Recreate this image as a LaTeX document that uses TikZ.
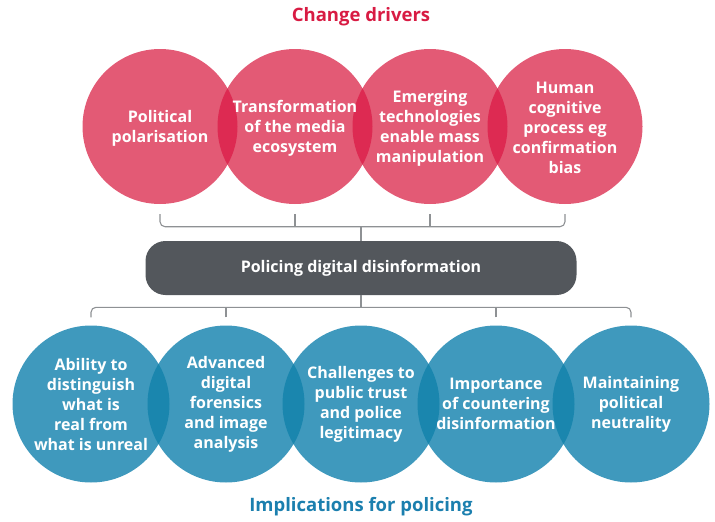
\documentclass[tikz,border=0pt]{standalone}
\usepackage{fontspec}
\setmainfont{Open Sans}
\usetikzlibrary{calc}
\pgfdeclarelayer{bg}
\pgfsetlayers{bg,main}
\definecolor{driverfill}{HTML}{E35A75}
\definecolor{driverlens}{HTML}{DD2A52}
\definecolor{implfill}{HTML}{3F99BD}
\definecolor{impllens}{HTML}{1A86AE}
\definecolor{barfill}{HTML}{53575C}
\definecolor{linkgray}{HTML}{8E9194}
\definecolor{headred}{HTML}{D81B43}
\definecolor{headblue}{HTML}{1B7FAE}
\begin{document}
\begin{tikzpicture}[x=1pt,y=-1pt,
  bubble/.style={circle, minimum size=#1, inner sep=0pt, text=white, align=center,
    font=\bfseries\fontsize{16}{20}\selectfont},
  driver/.style={bubble=155pt},
  impl/.style={bubble=157pt},
  hub/.style={rectangle, rounded corners=20pt, fill=barfill, text=white,
    minimum width=431pt, minimum height=54pt, font=\bfseries\fontsize{16}{20}\selectfont},
  heading/.style={font=\bfseries\fontsize{18.5}{23}\selectfont},
  link/.style={draw=linkgray, line width=1.1pt, rounded corners=5pt}]
\useasboundingbox (0,0) rectangle (715,522);

% headings
\node[heading, text=headred] (drivers) at (361,17) {Change drivers};
\node[heading, text=headblue] (implications) at (361,507) {Implications for policing};

% change drivers
\node[driver] (d1) at (160,128) {Political\\polarisation};
\node[driver] (d2) at (295,128) {Transformation\\of the media\\ecosystem};
\node[driver] (d3) at (430,128) {Emerging\\technologies\\enable mass\\manipulation};
\node[driver] (d4) at (565,128) {Human\\cognitive\\process eg\\confirmation\\bias};

% central theme
\node[hub] (hub) at (361,268) {Policing digital disinformation};

% implications
\node[impl] (i1) at (91,404)  {Ability to\\distinguish\\what is\\real from\\what is unreal};
\node[impl] (i2) at (226,404) {Advanced\\digital\\forensics\\and image\\analysis};
\node[impl] (i3) at (361,404) {Challenges to\\public trust\\and police\\legitimacy};
\node[impl] (i4) at (496,404) {Importance\\of countering\\disinformation};
\node[impl] (i5) at (631,404) {Maintaining\\political\\neutrality};

% disc fills and their overlaps, behind the labels
\begin{pgfonlayer}{bg}
  \foreach \n in {d1,d2,d3,d4}
    \fill[driverfill] ($(\n.center)+(0,-1.5)$) circle[radius=77.5pt];
  \foreach \a/\b in {d1/d2,d2/d3,d3/d4}{
    \begin{scope}
      \clip ($(\a.center)+(0,-1.5)$) circle[radius=77.5pt];
      \fill[driverlens] ($(\b.center)+(0,-1.5)$) circle[radius=77.5pt];
    \end{scope}}
  \foreach \n in {i1,i2,i3,i4,i5}
    \fill[implfill] (\n.center) circle[radius=78.5pt];
  \foreach \a/\b in {i1/i2,i2/i3,i3/i4,i4/i5}{
    \begin{scope}
      \clip (\a.center) circle[radius=78.5pt];
      \fill[impllens] (\b.center) circle[radius=78.5pt];
    \end{scope}}
\end{pgfonlayer}

% upper bracket
\coordinate (upjoin) at ($(hub.north)+(0,-14)$);
\draw[link] ($(d1.south)+(0,8.5)$) |- ($(d4.south)+(0,21)$) -- ($(d4.south)+(0,8.5)$);
\draw[link] ($(d2.south)+(0,8.5)$) -- ($(d2.south)+(0,21)$);
\draw[link] ($(d3.south)+(0,8.5)$) -- ($(d3.south)+(0,21)$);
\draw[link] (hub.north) -- (upjoin);

% lower bracket
\coordinate (lowjoin) at ($(hub.south)+(0,13)$);
\draw[link] ($(i1.north)+(0,-8)$) |- ($(i5.north)+(0,-18)$) -- ($(i5.north)+(0,-8)$);
\draw[link] ($(i2.north)+(0,-8)$) -- ($(i2.north)+(0,-18)$);
\draw[link] ($(i4.north)+(0,-8)$) -- ($(i4.north)+(0,-18)$);
\draw[link] (hub.south) -- (lowjoin);
\end{tikzpicture}
\end{document}
